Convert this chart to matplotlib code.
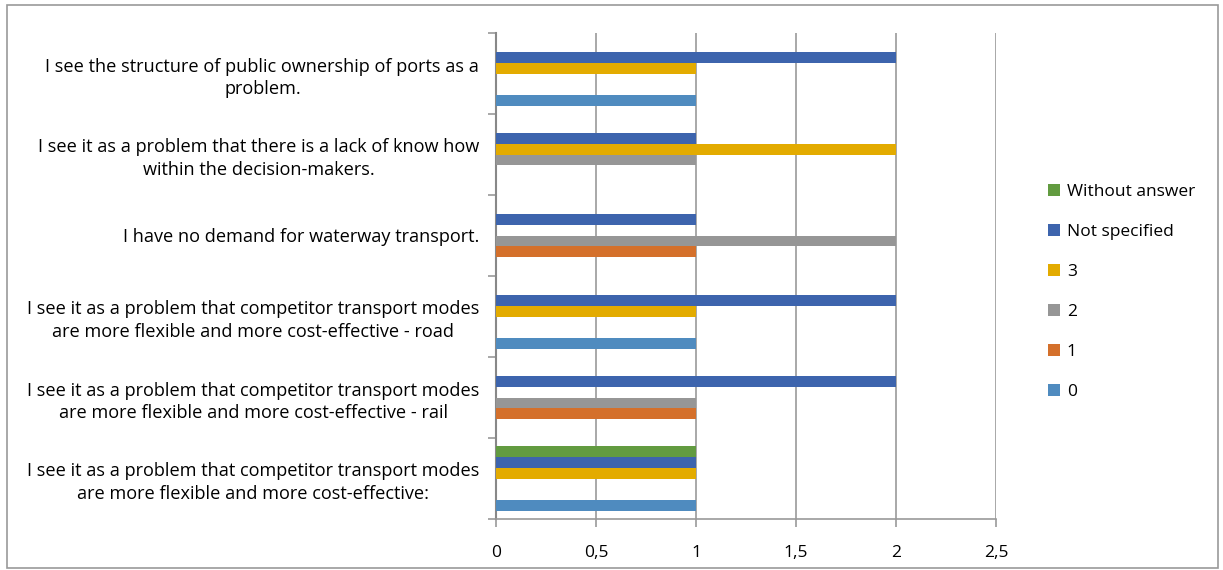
import numpy as np
import matplotlib.pyplot as plt
from matplotlib.patches import Rectangle

plt.rcParams['font.family'] = ['Open Sans', 'DejaVu Sans']

# categories bottom to top
categories = [
    "I see it as a problem that competitor transport modes\nare more flexible and more cost-effective:",
    "I see it as a problem that competitor transport modes\nare more flexible and more cost-effective - rail",
    "I see it as a problem that competitor transport modes\nare more flexible and more cost-effective - road",
    "I have no demand for waterway transport.",
    "I see it as a problem that there is a lack of know how\nwithin the decision-makers.",
    "I see the structure of public ownership of ports as a\nproblem.",
]
series_names = ["0", "1", "2", "3", "Not specified", "Without answer"]
s0 = [1, 0, 1, 0, 0, 1]
s1 = [0, 1, 0, 1, 0, 0]
s2 = [0, 1, 0, 2, 1, 0]
s3 = [1, 0, 1, 0, 2, 1]
s_ns = [1, 2, 2, 1, 1, 2]
s_wa = [1, 0, 0, 0, 0, 0]
series_values = [s0, s1, s2, s3, s_ns, s_wa]
colors = ["#4F8BBF", "#D4702B", "#969696", "#E3AB00", "#3D64AD", "#629B40"]
xticks = [0, 0.5, 1, 1.5, 2, 2.5]
xtick_labels = ["0", "0,5", "1", "1,5", "2", "2,5"]

fig = plt.figure(figsize=(12.23, 5.70), dpi=100)
ax = fig.add_axes([496 / 1223, 1 - 519 / 570, 500 / 1223, 486 / 570])

n = len(series_names)
bh = 0.8 / n
y = np.arange(len(categories))
handles = []
for i, (name, vals) in enumerate(zip(series_names, series_values)):
    off = -0.4 + bh * (i + 0.5)
    b = ax.barh(y + off, vals, height=bh, color=colors[i], label=name, zorder=3)
    handles.append(b)

ax.set_xlim(0, 2.5)
ax.set_ylim(-0.5, len(categories) - 0.5)
ax.set_xticks(xticks)
ax.set_xticklabels(xtick_labels, fontsize=12.5)
ax.grid(axis='x', color='#999999', linewidth=1.2, zorder=0)

# category boundaries as tick marks, labels at centres
ax.set_yticks(np.arange(len(categories) + 1) - 0.5)
ax.set_yticklabels([])
ax.set_yticks(y, minor=True)
ax.set_yticklabels(categories, minor=True, fontsize=13.1, multialignment='center', linespacing=1.35)
ax.tick_params(axis='y', which='minor', length=0, pad=12)
ax.tick_params(axis='y', which='major', length=6, color='#999999', width=1.2)
ax.tick_params(axis='x', length=6, color='#999999', width=1.2, pad=13)

for side in ['top', 'right']:
    ax.spines[side].set_visible(False)
ax.spines['left'].set_color('#888888')
ax.spines['left'].set_linewidth(1.5)
ax.spines['bottom'].set_color('#999999')
ax.spines['bottom'].set_linewidth(1.2)

leg = fig.legend(handles[::-1], series_names[::-1], loc='upper left',
                 bbox_to_anchor=(1032 / 1223, 1 - 168 / 570), frameon=False,
                 fontsize=12.5, handlelength=0.7, handleheight=0.7,
                 handletextpad=0.4, labelspacing=1.38)

fig.patches.append(Rectangle((7 / 1223, 2 / 570), 1211 / 1223, 563 / 570,
                             transform=fig.transFigure, fill=False,
                             edgecolor='#999999', linewidth=1.2))

fig.savefig('out.png', dpi=100)
